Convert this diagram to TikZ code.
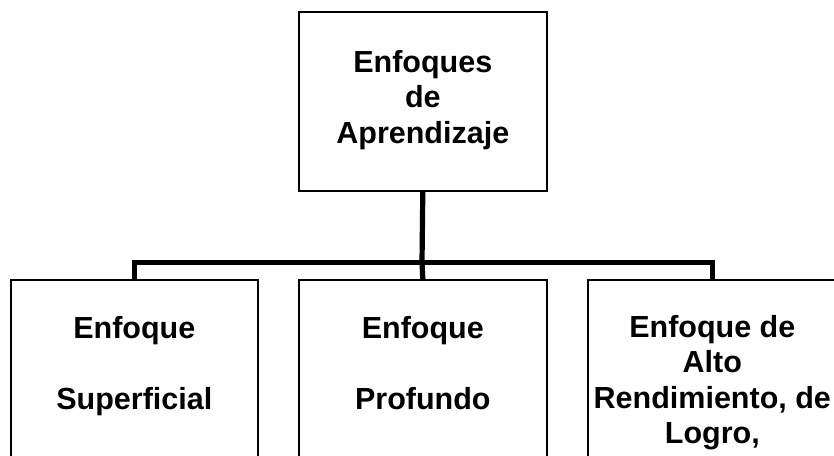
\documentclass[tikz,border=0pt]{standalone}
\usepackage{fontspec}
\setmainfont{Liberation Sans}
\begin{document}
\begin{tikzpicture}[x=1pt,y=-1pt,
  box/.style={draw=black,line width=1.6pt,rectangle,inner sep=0pt,anchor=north west},
  txt/.style={inner sep=0pt,anchor=north,align=center,font=\fontsize{30.5}{35.5}\selectfont\bfseries},
  conn/.style={draw=black,line width=5.2pt}]
\clip (0,0) rectangle (834,455);
\fill[white] (0,0) rectangle (834,455);
% boxes
\node[box,minimum width=248pt,minimum height=179pt] (top) at (298,11) {};
\node[box,minimum width=247pt,minimum height=185pt] (L) at (10,279) {};
\node[box,minimum width=248pt,minimum height=185pt] (M) at (298,279) {};
\node[box,minimum width=249pt,minimum height=185pt] (R) at (587,279) {};
% texts
\node[txt] (tt) at ([yshift=-39pt]top.north) {Enfoques\\de\\Aprendizaje};
\node[txt] (lt) at ([yshift=-37pt]L.north) {Enfoque\\[0pt]\strut\\Superficial};
\node[txt] (mt) at ([yshift=-37pt]M.north) {Enfoque\\[0pt]\strut\\Profundo};
\node[txt] (rt) at ([yshift=-36pt]R.north) {Enfoque de\\Alto\\Rendimiento, de\\Logro,};
% connectors
\coordinate (bus) at (422,262.5);
\draw[conn] (top.south) -- (bus) -- (M.north);
\draw[conn] (L.north) |- (bus) -| (R.north);
\end{tikzpicture}
\end{document}
